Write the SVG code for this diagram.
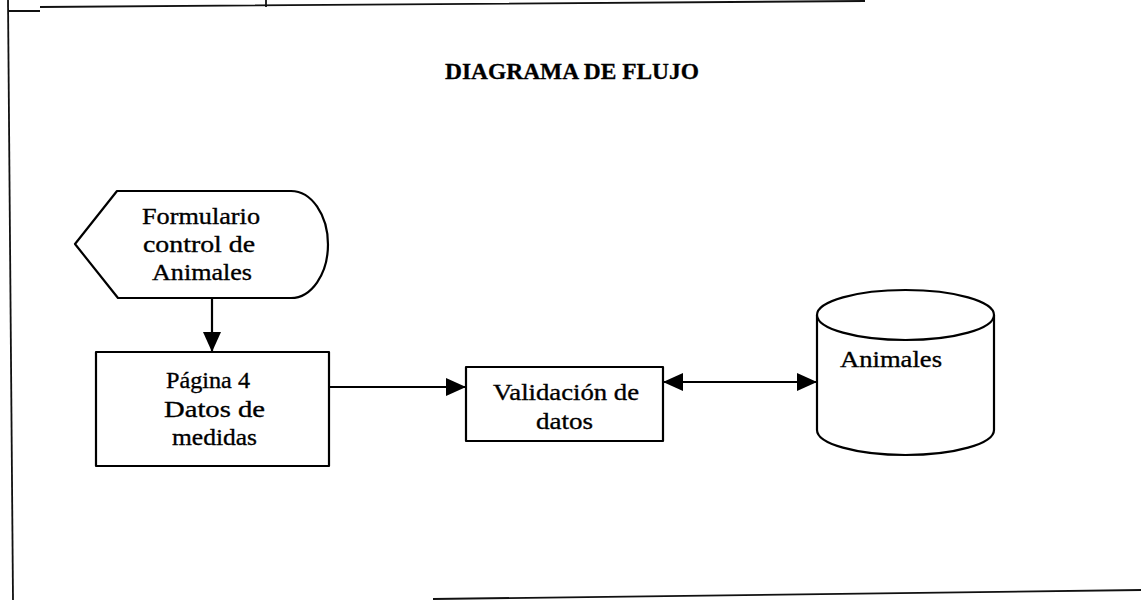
<svg xmlns="http://www.w3.org/2000/svg" width="1141" height="600" viewBox="0 0 1141 600">
<style>
.shape{fill:#fff;stroke:#000;stroke-width:2.2;stroke-linejoin:round}
.conn{fill:none;stroke:#000;stroke-width:2.2}
.frame{fill:none;stroke:#111;stroke-width:1.8}
.lbl{font-family:"Liberation Serif","Times New Roman",serif;font-size:24px;fill:#000;stroke:#000;stroke-width:0.35}
.title{font-family:"Liberation Serif","Times New Roman",serif;font-size:23.5px;font-weight:bold;fill:#000;stroke:#000;stroke-width:0.3}
</style>
<defs>
<marker id="ah" viewBox="0 0 20 18" markerWidth="20" markerHeight="18" refX="20" refY="9" orient="auto-start-reverse" markerUnits="userSpaceOnUse">
<path d="M0,0 L20,9 L0,18 Z" fill="#000"/>
</marker>
</defs>
<rect width="1141" height="600" fill="#fff"/>
<g id="frame">
<path class="frame" d="M8,0 L13,600"/>
<path class="frame" d="M8,11 L40,11 M40,7 L865,1"/>
<path class="frame" d="M266,0 L266,7"/>
<path class="frame" d="M433,599 L1141,590"/>
</g>
<text class="title" x="445" y="79" textLength="254" lengthAdjust="spacingAndGlyphs">DIAGRAMA DE FLUJO</text>
<g id="connectors">
<line class="conn" x1="212" y1="298" x2="212" y2="352" marker-end="url(#ah)"/>
<line class="conn" x1="329" y1="387" x2="466" y2="387" marker-end="url(#ah)"/>
<line class="conn" x1="663" y1="382" x2="817" y2="382" marker-start="url(#ah)" marker-end="url(#ah)"/>
</g>
<g id="formulario">
<path class="shape" d="M75,244 L117,191 L291,191 A37,53.5 0 0 1 291,298 L118,298 Z"/>
<text class="lbl" x="142" y="224" textLength="118" lengthAdjust="spacingAndGlyphs">Formulario</text>
<text class="lbl" x="143" y="252" textLength="112" lengthAdjust="spacingAndGlyphs">control de</text>
<text class="lbl" x="152" y="280" textLength="100" lengthAdjust="spacingAndGlyphs">Animales</text>
</g>
<g id="pagina4">
<rect class="shape" x="96" y="352" width="233" height="114"/>
<text class="lbl" x="166" y="388" textLength="84" lengthAdjust="spacingAndGlyphs">Página 4</text>
<text class="lbl" x="164" y="417" textLength="101" lengthAdjust="spacingAndGlyphs">Datos  de</text>
<text class="lbl" x="172" y="445" textLength="85" lengthAdjust="spacingAndGlyphs">medidas</text>
</g>
<g id="validacion">
<rect class="shape" x="466" y="367" width="197" height="74"/>
<text class="lbl" x="493" y="400" textLength="146" lengthAdjust="spacingAndGlyphs">Validación de</text>
<text class="lbl" x="536" y="429" textLength="57" lengthAdjust="spacingAndGlyphs">datos</text>
</g>
<g id="animales">
<path class="shape" d="M817,315 L817,430 A88.5,25 0 0 0 994,430 L994,315 A88.5,25 0 0 0 817,315 Z"/>
<path class="shape" fill="none" d="M817,315 A88.5,25 0 0 0 994,315"/>
<text class="lbl" x="840" y="367" textLength="102" lengthAdjust="spacingAndGlyphs">Animales</text>
</g>
</svg>
